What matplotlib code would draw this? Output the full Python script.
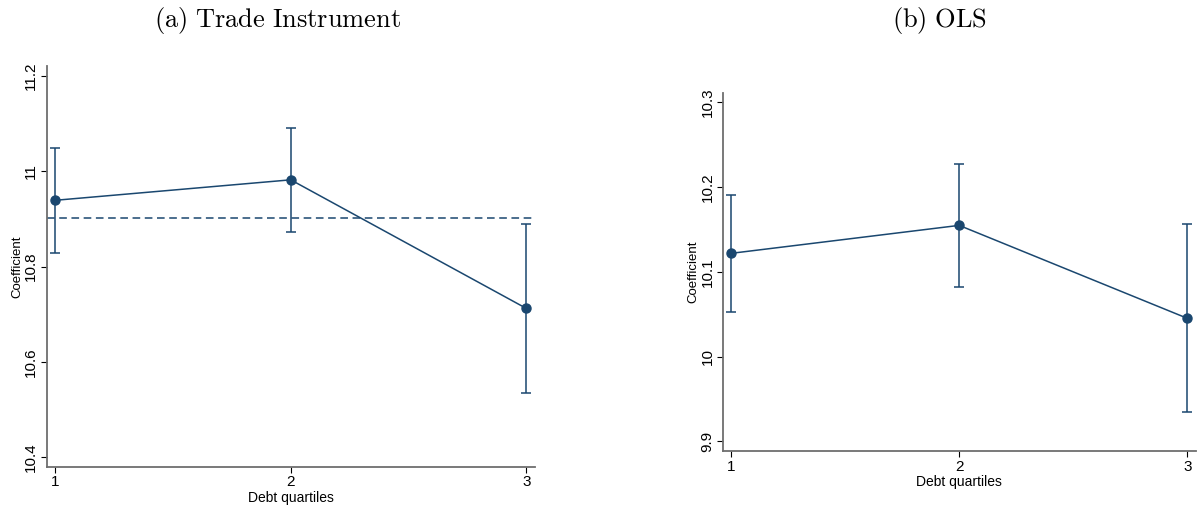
import numpy as np
import matplotlib.pyplot as plt

plt.rcParams['font.family'] = 'Liberation Sans'
plt.rcParams['mathtext.fontset'] = 'cm'

# debt quartile groups
quartiles = [1, 2, 3]

# (a) trade instrument estimates
iv_coef = [10.939, 10.982, 10.712]
iv_lo = [10.829, 10.873, 10.535]
iv_hi = [11.049, 11.091, 10.890]
iv_pooled = 10.902

# (b) OLS estimates
ols_coef = [10.1216, 10.1546, 10.045]
ols_lo = [10.052, 10.082, 9.935]
ols_hi = [10.191, 10.227, 10.156]

navy = '#1a476f'
spine_col = '#6e6e6e'

fig = plt.figure(figsize=(11.97, 5.14), dpi=100)
ax1 = fig.add_axes([0.039, 0.0914, 0.408, 0.7802])
ax2 = fig.add_axes([0.6038, 0.1216, 0.3952, 0.698])


def coef_plot(ax, coef, lo, hi, yticks, ylim):
    coef = np.array(coef)
    err = [coef - np.array(lo), np.array(hi) - coef]
    ax.errorbar(quartiles, coef, yerr=err, fmt='none', ecolor=navy,
                elinewidth=1.1, capsize=3.5, capthick=1.1, zorder=2)
    ax.plot(quartiles, coef, color=navy, lw=1.1, marker='o', ms=6.5,
            mfc=navy, mec=navy, zorder=3)
    ax.set_xlim(0.964, 3.037)
    ax.set_ylim(*ylim)
    ax.set_xticks(quartiles)
    ax.set_xticklabels([str(q) for q in quartiles])
    ax.set_yticks(yticks)
    ax.set_yticklabels([f'{t:g}' for t in yticks], rotation=90, va='center')
    ax.tick_params(axis='both', direction='out', length=4, width=0.8,
                   colors='black', labelsize=11, pad=2)
    for s in ['top', 'right']:
        ax.spines[s].set_visible(False)
    for s in ['left', 'bottom']:
        ax.spines[s].set_color(spine_col)
        ax.spines[s].set_linewidth(1.3)
    ax.set_xlabel('Debt quartiles', fontsize=10, labelpad=1)
    ax.set_ylabel('Coefficient', fontsize=9.5, labelpad=1)


coef_plot(ax1, iv_coef, iv_lo, iv_hi, [10.4, 10.6, 10.8, 11, 11.2], (10.379, 11.221))
ax1.axhline(iv_pooled, color=navy, lw=1.1, ls=(0, (5, 3)), zorder=1)

coef_plot(ax2, ols_coef, ols_lo, ols_hi, [9.9, 10, 10.1, 10.2, 10.3], (9.888, 10.311))

fig.text(0.2315, 0.96, r'$\mathrm{(a)\ Trade\ Instrument}$', ha='center', va='center', fontsize=19)
fig.text(0.785, 0.96, r'$\mathrm{(b)\ OLS}$', ha='center', va='center', fontsize=19)

fig.savefig('out.png', dpi=100)
